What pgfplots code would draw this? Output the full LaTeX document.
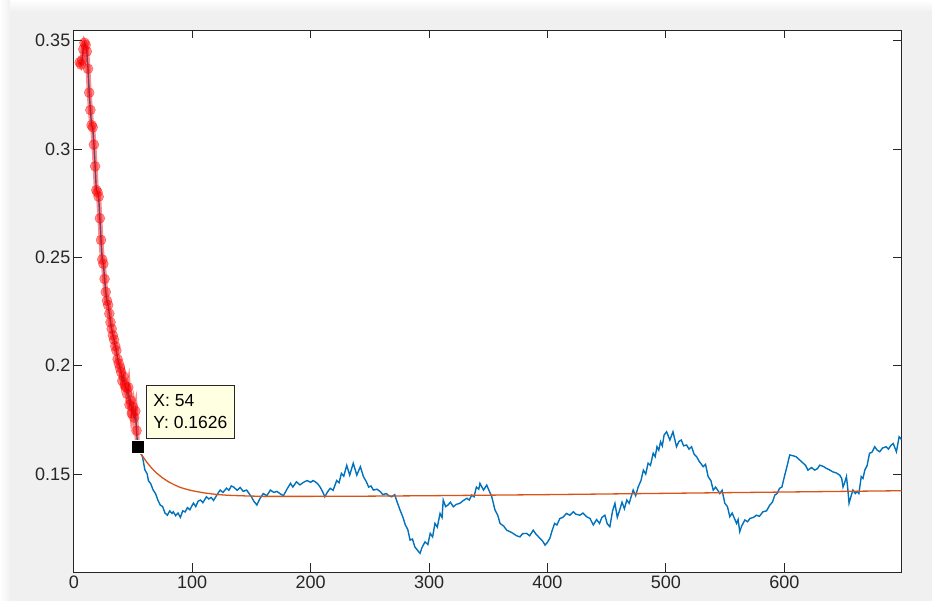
\documentclass[border=0pt]{standalone}
\usepackage{fontspec}
\setmainfont{Liberation Sans}
\usepackage{pgfplots}
\pgfplotsset{compat=1.18}
\definecolor{figbg}{HTML}{F0F0F0}
\definecolor{axgray}{HTML}{262626}
\definecolor{mblue}{rgb}{0,0.447,0.741}
\definecolor{morange}{rgb}{0.85,0.325,0.098}
\definecolor{tipbg}{HTML}{FFFFE1}

\begin{document}
\begin{tikzpicture}[x=1pt,y=1pt]
% figure window background
\fill[figbg] (0,0) rectangle (932,601);
\shade[top color=white, bottom color=figbg] (0,589) rectangle (932,601);
\shade[left color=white, right color=figbg] (0,0) rectangle (10,601);
\begin{axis}[
  at={(73.8pt,29pt)}, anchor=south west,
  width=827.7pt, height=542pt, scale only axis,
  xmin=0, xmax=699, ymin=0.1048, ymax=0.3549,
  xtick={0,100,200,300,400,500,600},
  ytick={0.15,0.2,0.25,0.3,0.35},
  yticklabels={0.15,0.2,0.25,0.3,0.35},
  tick align=inside, major tick length=8.5pt,
  axis background/.style={fill=white},
  axis line style={axgray, line width=0.9pt},
  every tick/.style={axgray, line width=0.9pt},
  ticklabel style={font=\fontsize{18}{21}\selectfont, text=axgray},
  /pgf/number format/assume math mode=true,
]
% raw signal
\addplot[mblue, line width=1.4pt] coordinates {
(5,0.340)(6,0.339)(7,0.341)(8,0.346)(9,0.349)(10,0.348)(11,0.345)(12,0.337)(13,0.326)
(14,0.318)(15,0.311)(16,0.310)(17,0.302)(18,0.292)(19,0.281)(20,0.280)(21,0.278)
(22,0.268)(23,0.258)(24,0.249)(25,0.247)(26,0.240)(27,0.234)(28,0.230)(29,0.228)
(30,0.224)(31,0.220)(32,0.217)(33,0.214)(34,0.212)(35,0.209)(36,0.207)(37,0.203)
(38,0.201)(39,0.199)(40,0.197)(41,0.193)(42,0.195)(43,0.191)(44,0.190)(45,0.187)
(46,0.190)(47,0.182)(48,0.184)(49,0.178)(50,0.181)(51,0.176)(52,0.179)(53,0.170)
(54,0.1626)(56,0.1600)(58,0.1580)(60,0.1520)(62,0.1500)(63,0.1470)(65,0.1455)
(67,0.1426)(69,0.1410)(71,0.1380)(73,0.1357)(75,0.1350)(77,0.1320)(79,0.1310)
(81,0.1330)(83,0.1318)(84,0.1326)(86,0.1308)(88,0.1320)(90,0.1300)(92,0.1330)
(94,0.1325)(96,0.1345)(98,0.1335)(101,0.1366)(103,0.1350)(105,0.1375)(107,0.1380)
(109,0.1368)(112,0.1395)(114,0.1385)(116,0.1392)(118,0.1378)(121,0.1405)
(123.6,0.1426)(126,0.1415)(129,0.1435)(131,0.1425)(133,0.1445)(135,0.1440)
(138,0.1425)(140.5,0.1438)(143,0.1420)(146,0.1426)(148,0.1410)(150,0.1395)
(152,0.1375)(154.6,0.1357)(157,0.1385)(160,0.1410)(163,0.1400)(166,0.1426)
(169,0.1415)(171.5,0.1420)(174,0.1410)(177,0.1400)(180,0.1430)(183,0.1457)
(185,0.1440)(188,0.1464)(191,0.1450)(194,0.1462)(197,0.1470)(200,0.1462)
(202,0.1470)(204,0.1464)(206,0.1455)(208,0.1440)(210,0.1420)(212,0.1395)
(214,0.1415)(216.5,0.1434)(219,0.1425)(222,0.1470)(224,0.1460)(226,0.1503)
(228,0.1490)(230.5,0.1540)(233,0.1495)(236,0.1550)(239,0.1495)(242,0.1534)
(244.6,0.1488)(247,0.1465)(249,0.1440)(251,0.1445)(253,0.1426)(256,0.1430)
(258.6,0.1420)(261,0.1405)(264,0.1410)(266,0.1400)(268.5,0.1395)(271,0.1405)
(273,0.1372)(275.5,0.1334)(278,0.1300)(280,0.1265)(282,0.1245)(284,0.1195)
(286,0.1200)(288,0.1164)(290,0.1150)(292.4,0.1134)(294,0.1160)(296.6,0.1187)
(299,0.1175)(301,0.1226)(303,0.1210)(305,0.1272)(307,0.1255)(309.3,0.1318)
(311,0.1300)(312,0.1380)(314,0.1350)(316,0.1357)(318,0.1370)(320.5,0.1349)
(323,0.1360)(326,0.1365)(329,0.1378)(332,0.1388)(334,0.1380)(336,0.1403)
(338,0.1395)(340,0.1440)(342,0.1430)(343,0.1457)(346,0.1426)(348.7,0.1449)
(351,0.1420)(353,0.1395)(355.7,0.1334)(358,0.1310)(360,0.1272)(363,0.1260)
(365.6,0.1241)(368,0.1235)(371,0.1226)(374,0.1215)(376.8,0.1210)(379,0.1225)
(382.4,0.1226)(385,0.1215)(388,0.1241)(390,0.1225)(393.7,0.1203)(396,0.1190)
(398,0.1172)(400,0.1185)(402,0.1203)(404,0.1240)(406,0.1272)(408,0.1265)
(410.5,0.1295)(413,0.1300)(416,0.1318)(419,0.1310)(421.8,0.1326)(424,0.1315)
(427.4,0.1310)(430,0.1320)(433,0.1303)(436,0.1295)(438.7,0.1265)(441.5,0.1290)
(444,0.1272)(446,0.1300)(448.5,0.1310)(450.5,0.1270)(452.7,0.1257)(455,0.1330)
(457,0.1365)(459,0.1300)(461,0.1334)(463,0.1370)(465,0.1340)(467,0.1380)
(469,0.1365)(472.4,0.1426)(474.5,0.1400)(476.6,0.1440)(479,0.1470)(481,0.1518)
(483,0.1500)(485,0.1550)(487,0.1540)(489.3,0.1596)(491,0.1580)(492.5,0.1626)
(494,0.1610)(495.5,0.1649)(497,0.1630)(498.5,0.1680)(500.6,0.1695)(503.4,0.1657)
(506,0.1695)(509,0.1626)(511,0.1650)(513,0.1657)(515,0.1630)(517.5,0.1634)
(519.5,0.1615)(521.7,0.1626)(524,0.1590)(526,0.1580)(528,0.1560)(531.5,0.1534)
(533.5,0.1545)(535.7,0.1488)(538,0.1470)(540,0.1426)(542,0.1440)(545.6,0.1410)
(547.5,0.1425)(549.8,0.1365)(552,0.1350)(554,0.1303)(556,0.1320)(559.7,0.1272)
(561,0.1290)(562.4,0.1234)(564,0.1260)(566.7,0.1288)(569,0.1280)(571,0.1295)
(574,0.1300)(576.5,0.1310)(579,0.1305)(582,0.1326)(585,0.1330)(587.8,0.1357)
(590,0.1370)(592,0.1403)(594,0.1410)(596,0.1434)(598,0.1440)(600.4,0.1495)
(602.5,0.1540)(604.6,0.1588)(607,0.1585)(610,0.1580)(613,0.1565)(616,0.1550)
(618,0.1540)(620,0.1518)(623,0.1530)(625.7,0.1518)(628,0.1525)(630,0.1541)
(633,0.1535)(635.6,0.1526)(638,0.1520)(641,0.1510)(644,0.1505)(646.8,0.1495)
(648.5,0.1480)(649.6,0.1440)(651,0.1460)(652.5,0.1488)(653.5,0.1440)(654.7,0.1365)
(656.5,0.1400)(658,0.1426)(660,0.1410)(661.5,0.1420)(663,0.1410)(665,0.1488)
(666.5,0.1480)(668,0.1518)(670,0.1540)(672,0.1596)(674,0.1600)(676.4,0.1626)
(678.5,0.1610)(680.6,0.1603)(683,0.1620)(686,0.1626)(688,0.1615)(690,0.1632)
(692,0.1641)(694.7,0.1603)(697,0.1672)(699,0.1660)
};
% fitted trend
\addplot[morange, line width=1.3pt] coordinates {
(54,0.1620)(58,0.1583)(62,0.1552)(66,0.1526)(70,0.1504)(75,0.1482)(80,0.1464)
(85,0.1450)(90,0.1438)(95,0.1430)(100,0.1423)(110,0.1413)(120,0.1406)(130,0.1402)
(145,0.1399)(160,0.1397)(200,0.1397)(250,0.1398)(300,0.1400)(400,0.1405)
(500,0.1411)(600,0.1417)(699,0.1423)
};
% first samples, highlighted
\addplot[draw=red, line width=5pt, draw opacity=0.45, mark=*, mark size=5pt,
  mark options={fill=red, draw=red, line width=0.5pt, fill opacity=0.45, draw opacity=0.45}] coordinates {
(5,0.340)(6,0.339)(7,0.341)(8,0.346)(9,0.349)(10,0.348)(11,0.345)(12,0.337)(13,0.326)
(14,0.318)(15,0.311)(16,0.310)(17,0.302)(18,0.292)(19,0.281)(20,0.280)(21,0.278)
(22,0.268)(23,0.258)(24,0.249)(25,0.247)(26,0.240)(27,0.234)(28,0.230)(29,0.228)
(30,0.224)(31,0.220)(32,0.217)(33,0.214)(34,0.212)(35,0.209)(36,0.207)(37,0.203)
(38,0.201)(39,0.199)(40,0.197)(41,0.193)(42,0.195)(43,0.191)(44,0.190)(45,0.187)
(46,0.190)(47,0.182)(48,0.184)(49,0.178)(50,0.181)(51,0.176)(52,0.179)(53,0.170)
(54,0.1626)
};
% data cursor
\addplot[only marks, mark=square*, mark size=6.5pt,
  mark options={fill=black, draw=white, line width=0.4pt}] coordinates {(54,0.1626)};
\node[anchor=south west, fill=tipbg, draw=axgray, line width=0.8pt,
  inner xsep=7pt, inner ysep=9pt, align=left,
  font=\fontsize{17.5}{22}\selectfont, xshift=8.3pt, yshift=8.3pt]
  at (axis cs:54,0.1626) {X: 54\\Y: 0.1626};
\end{axis}
\end{tikzpicture}
\end{document}
